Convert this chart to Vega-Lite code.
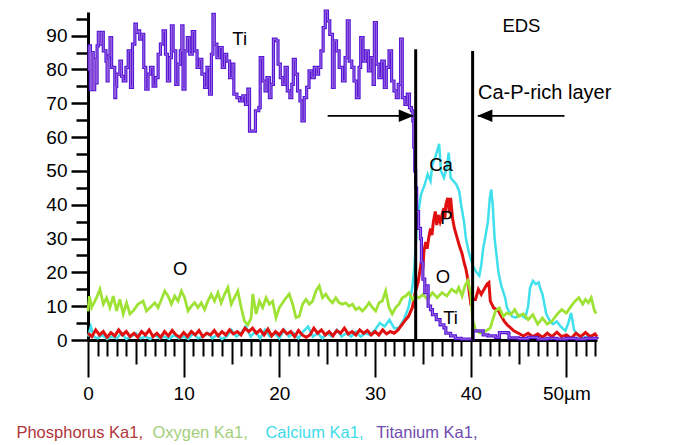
{
 "$schema": "https://vega.github.io/schema/vega-lite/v6.json",
 "width": 509, "height": 328,
 "autosize": "none",
 "padding": {"left": 88, "top": 12, "right": 83, "bottom": 105},
 "background": "white",
 "config": {"view": {"stroke": null}, "font": "Liberation Sans"},
 "datasets": {
  "ti": [{"x":0,"y":80},{"x":0.12,"y":87},{"x":0.25,"y":74},{"x":0.4,"y":85},{"x":0.55,"y":74},{"x":0.7,"y":83},{"x":0.85,"y":76},{"x":0.95,"y":87},{"x":1.08,"y":91},{"x":1.25,"y":87.5},{"x":1.42,"y":91},{"x":1.6,"y":85.5},{"x":1.88,"y":82.5},{"x":2.0,"y":76.6},{"x":2.1,"y":84},{"x":2.3,"y":89.4},{"x":2.47,"y":80.6},{"x":2.8,"y":71.7},{"x":2.9,"y":75},{"x":3.0,"y":78.6},{"x":3.33,"y":82.5},{"x":3.5,"y":78},{"x":3.68,"y":76.6},{"x":3.96,"y":80.6},{"x":4.2,"y":85.5},{"x":4.44,"y":74.7},{"x":4.65,"y":87.5},{"x":4.9,"y":93.4},{"x":5.05,"y":91},{"x":5.24,"y":91.4},{"x":5.4,"y":89},{"x":5.6,"y":90.4},{"x":5.83,"y":80.6},{"x":6.04,"y":74.2},{"x":6.28,"y":78.6},{"x":6.53,"y":80.6},{"x":6.8,"y":75.1},{"x":7.08,"y":77.6},{"x":7.33,"y":84.5},{"x":7.57,"y":87.5},{"x":7.85,"y":91.4},{"x":8.1,"y":84.5},{"x":8.3,"y":76.6},{"x":8.54,"y":83.5},{"x":8.72,"y":92.9},{"x":8.9,"y":85.5},{"x":9.17,"y":75.6},{"x":9.4,"y":81.6},{"x":9.65,"y":85.5},{"x":9.8,"y":92.9},{"x":9.93,"y":74.2},{"x":10.14,"y":85.5},{"x":10.38,"y":89.4},{"x":10.63,"y":84.5},{"x":10.9,"y":91.2},{"x":11.15,"y":85.5},{"x":11.4,"y":80.6},{"x":11.67,"y":83},{"x":11.9,"y":78.6},{"x":12.19,"y":74.7},{"x":12.43,"y":80.6},{"x":12.7,"y":72.7},{"x":12.9,"y":84.5},{"x":13.06,"y":96.3},{"x":13.2,"y":87.5},{"x":13.47,"y":83.5},{"x":13.75,"y":86.5},{"x":14.03,"y":80.6},{"x":14.27,"y":84.5},{"x":14.5,"y":82.5},{"x":14.8,"y":77.6},{"x":15.07,"y":81.6},{"x":15.24,"y":72.7},{"x":15.56,"y":71.7},{"x":15.83,"y":70.7},{"x":16.18,"y":72.2},{"x":16.46,"y":69.7},{"x":16.7,"y":74.2},{"x":16.88,"y":61.8},{"x":17.5,"y":67.8},{"x":17.85,"y":68.7},{"x":18.0,"y":83.5},{"x":18.26,"y":76.6},{"x":18.5,"y":73.7},{"x":18.7,"y":77.6},{"x":18.96,"y":71.7},{"x":19.13,"y":75.6},{"x":19.38,"y":89},{"x":19.65,"y":88.5},{"x":19.86,"y":81.6},{"x":20.1,"y":77.6},{"x":20.35,"y":75.6},{"x":20.6,"y":80.6},{"x":20.83,"y":73.7},{"x":21.1,"y":71.7},{"x":21.3,"y":75.6},{"x":21.46,"y":83},{"x":21.67,"y":78.6},{"x":21.9,"y":73.7},{"x":22.15,"y":70.7},{"x":22.36,"y":64.8},{"x":22.6,"y":71.7},{"x":22.85,"y":74.7},{"x":23.1,"y":79.6},{"x":23.4,"y":77.6},{"x":23.65,"y":80.6},{"x":23.9,"y":78.6},{"x":24.1,"y":80.6},{"x":24.34,"y":85.5},{"x":24.58,"y":92.4},{"x":24.8,"y":97.3},{"x":25.03,"y":94.4},{"x":25.27,"y":90.4},{"x":25.55,"y":74.7},{"x":25.73,"y":88.5},{"x":25.97,"y":85.5},{"x":26.25,"y":80.6},{"x":26.6,"y":76.6},{"x":26.87,"y":83.5},{"x":27.1,"y":94.4},{"x":27.3,"y":82.5},{"x":27.57,"y":80.6},{"x":27.8,"y":76.6},{"x":28.05,"y":71.7},{"x":28.33,"y":80.6},{"x":28.5,"y":89.4},{"x":28.75,"y":82.5},{"x":29.03,"y":85.5},{"x":29.3,"y":79.6},{"x":29.55,"y":83.5},{"x":29.8,"y":75.6},{"x":29.93,"y":93.9},{"x":30.14,"y":81.6},{"x":30.4,"y":77.6},{"x":30.7,"y":82.5},{"x":30.97,"y":74.7},{"x":31.18,"y":80.6},{"x":31.46,"y":85.5},{"x":31.73,"y":76.6},{"x":31.98,"y":73.7},{"x":32.22,"y":71.7},{"x":32.43,"y":75.6},{"x":32.67,"y":89},{"x":32.85,"y":71.7},{"x":33.12,"y":69.7},{"x":33.37,"y":72.7},{"x":33.6,"y":68.7},{"x":33.8,"y":67.8},{"x":33.95,"y":64.8},{"x":34.05,"y":57},{"x":34.15,"y":50},{"x":34.25,"y":45},{"x":34.35,"y":38},{"x":34.55,"y":33},{"x":34.75,"y":30},{"x":34.85,"y":23},{"x":35.0,"y":18},{"x":35.2,"y":14},{"x":35.4,"y":16},{"x":35.55,"y":10},{"x":35.8,"y":9},{"x":36.0,"y":7.5},{"x":36.4,"y":6},{"x":36.8,"y":4.5},{"x":37.2,"y":3.6},{"x":37.4,"y":2},{"x":37.9,"y":1.2},{"x":38.4,"y":0.5},{"x":39.0,"y":0.3},{"x":40.2,"y":0.3},{"x":40.25,"y":2.7},{"x":41.2,"y":2.7},{"x":41.3,"y":1.5},{"x":41.8,"y":1.2},{"x":42.6,"y":0.8},{"x":43.0,"y":2.2},{"x":43.9,"y":2},{"x":44.0,"y":0.6},{"x":45,"y":0.4},{"x":46,"y":0.8},{"x":47,"y":0.3},{"x":48,"y":0.5},{"x":49,"y":0.3},{"x":50,"y":0.5},{"x":51,"y":0.3},{"x":52,"y":0.5},{"x":53.2,"y":0.3}],
  "ca": [{"x":0,"y":1},{"x":0.3,"y":4},{"x":0.6,"y":1},{"x":1,"y":0.5},{"x":1.5,"y":1.5},{"x":2,"y":0.3},{"x":2.5,"y":1},{"x":3,"y":0.5},{"x":3.5,"y":2},{"x":4,"y":0.3},{"x":4.5,"y":1},{"x":5,"y":2},{"x":5.5,"y":0.5},{"x":6,"y":1},{"x":6.5,"y":0.3},{"x":7,"y":1.5},{"x":7.5,"y":0.5},{"x":8,"y":1},{"x":8.5,"y":0.3},{"x":9,"y":1.5},{"x":9.5,"y":0.5},{"x":10,"y":1},{"x":10.5,"y":0.3},{"x":11,"y":2},{"x":11.5,"y":0.5},{"x":12,"y":1},{"x":12.5,"y":2},{"x":13,"y":0.5},{"x":13.5,"y":1.5},{"x":14,"y":0.3},{"x":14.5,"y":1},{"x":15,"y":3},{"x":15.5,"y":1},{"x":16,"y":2},{"x":16.5,"y":4},{"x":17,"y":1},{"x":17.5,"y":2.5},{"x":18,"y":0.5},{"x":18.5,"y":3},{"x":19,"y":1},{"x":19.5,"y":2},{"x":20,"y":0.5},{"x":20.5,"y":3},{"x":21,"y":1},{"x":21.5,"y":2},{"x":22,"y":0.5},{"x":22.5,"y":2.5},{"x":23,"y":4},{"x":23.5,"y":1},{"x":24,"y":2},{"x":24.5,"y":0.5},{"x":25,"y":2},{"x":25.5,"y":1},{"x":26,"y":3},{"x":26.5,"y":1},{"x":27,"y":2},{"x":27.5,"y":1},{"x":28,"y":2.5},{"x":28.5,"y":1},{"x":29,"y":2},{"x":29.5,"y":1.5},{"x":30,"y":3},{"x":30.5,"y":5},{"x":31,"y":4},{"x":31.5,"y":6},{"x":32,"y":3.5},{"x":32.5,"y":3.6},{"x":33,"y":6},{"x":33.5,"y":9.6},{"x":33.9,"y":15.5},{"x":34.1,"y":21},{"x":34.4,"y":35},{"x":34.6,"y":39},{"x":34.8,"y":43},{"x":35.2,"y":46},{"x":35.5,"y":49},{"x":35.8,"y":47},{"x":36.0,"y":52},{"x":36.3,"y":54},{"x":36.5,"y":56},{"x":36.7,"y":58},{"x":36.9,"y":50},{"x":37.2,"y":48},{"x":37.5,"y":51},{"x":37.7,"y":55.4},{"x":37.9,"y":48},{"x":38.2,"y":47},{"x":38.5,"y":46},{"x":38.8,"y":44},{"x":39.0,"y":40},{"x":39.3,"y":35},{"x":39.5,"y":30},{"x":39.8,"y":26},{"x":40.0,"y":24},{"x":40.3,"y":21.5},{"x":40.6,"y":20},{"x":40.9,"y":19},{"x":41.1,"y":22},{"x":41.3,"y":27},{"x":41.5,"y":30},{"x":41.8,"y":35},{"x":42.0,"y":42},{"x":42.15,"y":44.5},{"x":42.3,"y":40},{"x":42.5,"y":30},{"x":42.7,"y":25},{"x":42.9,"y":20},{"x":43.2,"y":16},{"x":43.6,"y":12.5},{"x":43.8,"y":9.5},{"x":44.3,"y":7},{"x":44.7,"y":6.6},{"x":45.2,"y":7.5},{"x":45.7,"y":6.5},{"x":46.0,"y":10},{"x":46.2,"y":15.4},{"x":46.5,"y":17.5},{"x":46.8,"y":16.5},{"x":47.1,"y":17},{"x":47.3,"y":15},{"x":47.5,"y":13.6},{"x":47.7,"y":10.6},{"x":47.9,"y":7.7},{"x":48.3,"y":5.5},{"x":48.6,"y":4.7},{"x":49.0,"y":5.5},{"x":49.4,"y":4},{"x":49.9,"y":2.7},{"x":50.2,"y":5},{"x":50.5,"y":8},{"x":50.8,"y":3},{"x":51.2,"y":1.5},{"x":51.7,"y":0.6},{"x":52.2,"y":1},{"x":52.7,"y":0.5},{"x":53.2,"y":0.5}],
  "p": [{"x":0,"y":2},{"x":0.4,"y":1},{"x":0.8,"y":3},{"x":1.2,"y":1.5},{"x":1.6,"y":2.5},{"x":2.0,"y":0.8},{"x":2.4,"y":2.2},{"x":2.8,"y":1.2},{"x":3.2,"y":3},{"x":3.6,"y":1.5},{"x":4.0,"y":2.5},{"x":4.4,"y":1},{"x":4.8,"y":2},{"x":5.2,"y":0.8},{"x":5.6,"y":2.5},{"x":6.0,"y":1.5},{"x":6.4,"y":3},{"x":6.8,"y":1},{"x":7.2,"y":2},{"x":7.6,"y":0.8},{"x":8.0,"y":2.5},{"x":8.4,"y":1.2},{"x":8.8,"y":2.8},{"x":9.2,"y":1.5},{"x":9.6,"y":0.8},{"x":10.0,"y":2.2},{"x":10.4,"y":1},{"x":10.8,"y":2.5},{"x":11.2,"y":1.5},{"x":11.6,"y":2.8},{"x":12.0,"y":1},{"x":12.4,"y":2},{"x":12.8,"y":1.5},{"x":13.2,"y":2.8},{"x":13.6,"y":1.2},{"x":14.0,"y":2.5},{"x":14.4,"y":1.5},{"x":14.8,"y":3},{"x":15.2,"y":1.8},{"x":15.6,"y":2.5},{"x":16.0,"y":1.5},{"x":16.4,"y":3.5},{"x":16.8,"y":2.5},{"x":17.2,"y":3.5},{"x":17.6,"y":2},{"x":18.0,"y":3},{"x":18.4,"y":1.5},{"x":18.8,"y":3.2},{"x":19.2,"y":1.2},{"x":19.6,"y":2.5},{"x":20.0,"y":1.5},{"x":20.4,"y":3},{"x":20.8,"y":1.8},{"x":21.2,"y":2.5},{"x":21.6,"y":1},{"x":22.0,"y":2.8},{"x":22.4,"y":1.5},{"x":22.8,"y":0.8},{"x":23.2,"y":1.5},{"x":23.6,"y":3.5},{"x":24.0,"y":2},{"x":24.4,"y":3},{"x":24.8,"y":1.5},{"x":25.2,"y":2.5},{"x":25.6,"y":1.2},{"x":26.0,"y":2.8},{"x":26.4,"y":2},{"x":26.8,"y":3.5},{"x":27.2,"y":1.8},{"x":27.6,"y":2.5},{"x":28.0,"y":1.5},{"x":28.4,"y":3},{"x":28.8,"y":2},{"x":29.2,"y":2.8},{"x":29.6,"y":1.5},{"x":30.0,"y":2.5},{"x":30.4,"y":1.5},{"x":30.8,"y":3},{"x":31.2,"y":1.8},{"x":31.6,"y":2.5},{"x":32.0,"y":2},{"x":32.4,"y":3},{"x":32.8,"y":4.5},{"x":33.2,"y":6},{"x":33.5,"y":7},{"x":33.9,"y":9.6},{"x":34.2,"y":14},{"x":34.5,"y":17},{"x":34.8,"y":22.5},{"x":35.0,"y":21},{"x":35.1,"y":26},{"x":35.3,"y":29},{"x":35.45,"y":27},{"x":35.6,"y":30},{"x":35.8,"y":33},{"x":35.95,"y":31},{"x":36.1,"y":35},{"x":36.3,"y":38},{"x":36.45,"y":34},{"x":36.6,"y":37},{"x":36.8,"y":35},{"x":37.0,"y":37},{"x":37.2,"y":39},{"x":37.3,"y":36},{"x":37.4,"y":40},{"x":37.6,"y":42},{"x":37.75,"y":38},{"x":37.9,"y":42},{"x":38.1,"y":36},{"x":38.3,"y":33},{"x":38.5,"y":31},{"x":38.8,"y":28},{"x":39.1,"y":25.5},{"x":39.3,"y":23},{"x":39.5,"y":21},{"x":39.7,"y":18},{"x":39.85,"y":14},{"x":40.0,"y":11},{"x":40.3,"y":12},{"x":40.5,"y":12},{"x":40.8,"y":15},{"x":41.1,"y":13.5},{"x":41.4,"y":15},{"x":41.7,"y":16.5},{"x":41.9,"y":17},{"x":42.05,"y":11.5},{"x":42.4,"y":9.5},{"x":42.9,"y":8.6},{"x":43.1,"y":7.5},{"x":43.5,"y":5.6},{"x":43.8,"y":4.5},{"x":44.2,"y":3.5},{"x":44.5,"y":2.7},{"x":45,"y":2},{"x":45.5,"y":1.2},{"x":46,"y":2},{"x":46.5,"y":1},{"x":47,"y":1.8},{"x":47.5,"y":0.8},{"x":48,"y":2},{"x":48.5,"y":1},{"x":49,"y":2.3},{"x":49.5,"y":1},{"x":50,"y":1.5},{"x":50.5,"y":0.5},{"x":51,"y":2},{"x":51.5,"y":1},{"x":52,"y":2.2},{"x":52.5,"y":1},{"x":53,"y":1.8},{"x":53.2,"y":1}],
  "o": [{"x":0,"y":8.5},{"x":0.15,"y":13},{"x":0.38,"y":9.6},{"x":0.9,"y":12.5},{"x":1.25,"y":15},{"x":1.6,"y":10.6},{"x":1.94,"y":12.5},{"x":2.29,"y":9.6},{"x":2.64,"y":13},{"x":2.99,"y":8.6},{"x":3.33,"y":12},{"x":3.68,"y":7.7},{"x":4.03,"y":11},{"x":4.38,"y":7.7},{"x":4.72,"y":8.6},{"x":5.24,"y":10.6},{"x":5.76,"y":11.5},{"x":6.11,"y":8.6},{"x":6.63,"y":10},{"x":6.98,"y":11},{"x":7.33,"y":9.6},{"x":7.67,"y":12},{"x":8.02,"y":14.5},{"x":8.37,"y":13},{"x":8.72,"y":10.6},{"x":9.06,"y":13},{"x":9.41,"y":11.5},{"x":9.76,"y":14.5},{"x":10.1,"y":12.5},{"x":10.45,"y":8.6},{"x":10.8,"y":10},{"x":11.15,"y":11},{"x":11.49,"y":9.6},{"x":11.84,"y":11},{"x":12.19,"y":9},{"x":12.53,"y":11.5},{"x":12.88,"y":13.5},{"x":13.23,"y":11.5},{"x":13.58,"y":14},{"x":13.92,"y":11},{"x":14.27,"y":13.5},{"x":14.62,"y":15.5},{"x":14.97,"y":10.6},{"x":15.31,"y":12.5},{"x":15.66,"y":14.5},{"x":16.01,"y":9.6},{"x":16.35,"y":5.6},{"x":16.7,"y":4.5},{"x":17.05,"y":6.5},{"x":17.22,"y":13.6},{"x":17.57,"y":7.7},{"x":17.92,"y":11.5},{"x":18.26,"y":9.6},{"x":18.61,"y":12.5},{"x":18.96,"y":10.6},{"x":19.3,"y":11.5},{"x":19.65,"y":6.6},{"x":20.0,"y":9.6},{"x":20.35,"y":11},{"x":20.7,"y":12.5},{"x":21.04,"y":13.6},{"x":21.39,"y":10.6},{"x":21.74,"y":6.6},{"x":22.08,"y":7},{"x":22.43,"y":10.6},{"x":22.78,"y":12},{"x":23.13,"y":10.6},{"x":23.47,"y":11.5},{"x":23.82,"y":14.5},{"x":24.17,"y":16},{"x":24.51,"y":12.5},{"x":24.86,"y":13.6},{"x":25.2,"y":12},{"x":25.56,"y":11},{"x":25.9,"y":12.5},{"x":26.25,"y":11},{"x":26.6,"y":10.6},{"x":26.94,"y":11},{"x":27.29,"y":10},{"x":27.64,"y":10.6},{"x":27.99,"y":9},{"x":28.33,"y":9.6},{"x":28.68,"y":8.6},{"x":29.03,"y":9.6},{"x":29.38,"y":11},{"x":29.72,"y":9.6},{"x":30.07,"y":8.6},{"x":30.42,"y":11},{"x":30.76,"y":11.5},{"x":31.11,"y":14.5},{"x":31.46,"y":9.6},{"x":31.8,"y":7.7},{"x":32.15,"y":9.6},{"x":32.5,"y":10.6},{"x":32.85,"y":12.5},{"x":33.2,"y":13},{"x":33.54,"y":14},{"x":33.9,"y":12},{"x":34.2,"y":13},{"x":34.6,"y":12.5},{"x":35.0,"y":13.5},{"x":35.5,"y":12},{"x":36.0,"y":14},{"x":36.5,"y":12.5},{"x":37.0,"y":14},{"x":37.5,"y":13},{"x":38.0,"y":15},{"x":38.5,"y":14},{"x":38.75,"y":15.5},{"x":39.1,"y":13},{"x":39.4,"y":16},{"x":39.7,"y":17.5},{"x":40.0,"y":14},{"x":40.2,"y":6},{"x":40.5,"y":3},{"x":41.0,"y":2},{"x":41.5,"y":2.5},{"x":42.05,"y":3.6},{"x":42.3,"y":6},{"x":42.6,"y":8.6},{"x":43.0,"y":9.5},{"x":43.4,"y":7},{"x":43.8,"y":8},{"x":44.2,"y":7.5},{"x":44.6,"y":9},{"x":45.0,"y":7},{"x":45.5,"y":7.7},{"x":46.0,"y":6},{"x":46.5,"y":7.5},{"x":47.0,"y":4.7},{"x":47.5,"y":6.5},{"x":48.0,"y":4.7},{"x":48.5,"y":5.6},{"x":49.0,"y":7.5},{"x":49.5,"y":9},{"x":50.0,"y":8},{"x":50.5,"y":10},{"x":50.9,"y":11.5},{"x":51.3,"y":12.5},{"x":51.7,"y":10.6},{"x":52.0,"y":12},{"x":52.3,"y":11},{"x":52.6,"y":12.5},{"x":52.9,"y":9},{"x":53.1,"y":7.8}],
  "bars": [{"x":34.25,"y":86},{"x":40.2,"y":85.5}],
  "arrows": [{"x":25.05,"x2":34.0,"y":66.3},{"x":49.8,"x2":40.74,"y":66.3}],
  "headR": [{"x":34.05,"y":66.3}],
  "headL": [{"x":40.7,"y":66.3}],
  "labels": [{"x":15.85,"y":88.9,"label":"Ti"},{"x":45.3,"y":93,"label":"EDS"},{"x":36.9,"y":51.7,"label":"Ca"},{"x":37.46,"y":36.2,"label":"P"},{"x":37.1,"y":18.5,"label":"O"},{"x":37.9,"y":6.6,"label":"Ti"},{"x":9.64,"y":21,"label":"O"}],
  "layerLabel": [{"x":40.76,"y":73,"label":"Ca-P-rich layer"}],
  "legendText": [{"x":-7.48,"y":-29.1,"label":"Phosphorus Ka1,","s":"P"},{"x":6.73,"y":-29.1,"label":"Oxygen Ka1,","s":"O"},{"x":18.54,"y":-29.1,"label":"Calcium Ka1,","s":"Ca"},{"x":30.14,"y":-29.1,"label":"Titanium Ka1,","s":"Ti"}]
 },
 "encoding": {
  "x": {"field": "x", "type": "quantitative",
        "scale": {"domain": [0, 53.2], "nice": false, "zero": false},
        "axis": {"values": [0,1,2,3,4,5,6,7,8,9,10,11,12,13,14,15,16,17,18,19,20,21,22,23,24,25,26,27,28,29,30,31,32,33,34,35,36,37,38,39,40,41,42,43,44,45,46,47,48,49,50,51,52,53],
                 "title": null, "grid": false, "domainColor": "black", "domainWidth": 3,
                 "tickColor": "black", "tickWidth": 2,
                 "tickSize": {"expr": "datum.value % 10 === 0 ? 37 : (datum.value % 5 === 0 ? 24 : 16)"},
                 "labelExpr": "datum.value % 10 === 0 ? (datum.value === 50 ? '50µm' : datum.label) : ''",
                 "labelFontSize": 19, "labelColor": "black", "labelPadding": 7, "labelFont": "Liberation Sans",
                 "labelFlush": false, "labelOverlap": false, "labelBound": false}},
  "y": {"field": "y", "type": "quantitative",
        "scale": {"domain": [0, 97], "nice": false},
        "axis": {"values": [0,5,10,15,20,25,30,35,40,45,50,55,60,65,70,75,80,85,90,95],
                 "title": null, "grid": false, "domainColor": "black", "domainWidth": 3,
                 "tickColor": "black", "tickWidth": 2.5,
                 "tickSize": {"expr": "datum.value % 10 === 0 ? 17 : 12"},
                 "labelExpr": "datum.value % 10 === 0 ? datum.label : ''",
                 "labelFontSize": 19, "labelColor": "black", "labelPadding": 4, "labelFont": "Liberation Sans",
                 "labelOverlap": false, "labelBound": false}}
 },
 "layer": [
  {"data": {"name": "ca"}, "mark": {"type": "line", "color": "#3fdfec", "strokeWidth": 2.5}},
  {"data": {"name": "p"}, "mark": {"type": "line", "color": "#e01010", "strokeWidth": 3}},
  {"data": {"name": "o"}, "mark": {"type": "line", "color": "#9ee235", "strokeWidth": 2.8}},
  {"data": {"name": "ti"}, "mark": {"type": "line", "color": "#5518d8", "strokeWidth": 3.2, "interpolate": "step-after"}},
  {"data": {"name": "ti"}, "mark": {"type": "line", "color": "#c08ee0", "strokeWidth": 0.7, "interpolate": "step-after"}},
  {"data": {"name": "bars"}, "mark": {"type": "rule", "color": "black", "strokeWidth": 3}, "encoding": {"y2": {"datum": 0}}},
  {"data": {"name": "arrows"}, "mark": {"type": "rule", "color": "black", "strokeWidth": 1.8}, "encoding": {"x2": {"field": "x2"}}},
  {"data": {"name": "headR"}, "mark": {"type": "point", "shape": "M0,0L-1,-0.42L-1,0.42Z", "size": 900, "filled": true, "color": "black", "opacity": 1}},
  {"data": {"name": "headL"}, "mark": {"type": "point", "shape": "M0,0L1,-0.42L1,0.42Z", "size": 900, "filled": true, "color": "black", "opacity": 1}},
  {"data": {"name": "labels"}, "mark": {"type": "text", "fontSize": 18.5, "align": "center", "baseline": "middle", "color": "black", "font": "Liberation Sans"}, "encoding": {"text": {"field": "label"}}},
  {"data": {"name": "layerLabel"}, "mark": {"type": "text", "fontSize": 20, "align": "left", "baseline": "middle", "color": "black", "font": "Liberation Sans"}, "encoding": {"text": {"field": "label"}}},
  {"data": {"name": "legendText"}, "mark": {"type": "text", "fontSize": 16.5, "align": "left", "baseline": "alphabetic", "font": "Liberation Sans"},
   "encoding": {"text": {"field": "label"},
                "color": {"field": "s", "type": "nominal", "scale": {"domain": ["P","O","Ca","Ti"], "range": ["#b0363b","#a3cf7a","#3ddbe8","#6e4cae"]}, "legend": null}}}
 ]
}
